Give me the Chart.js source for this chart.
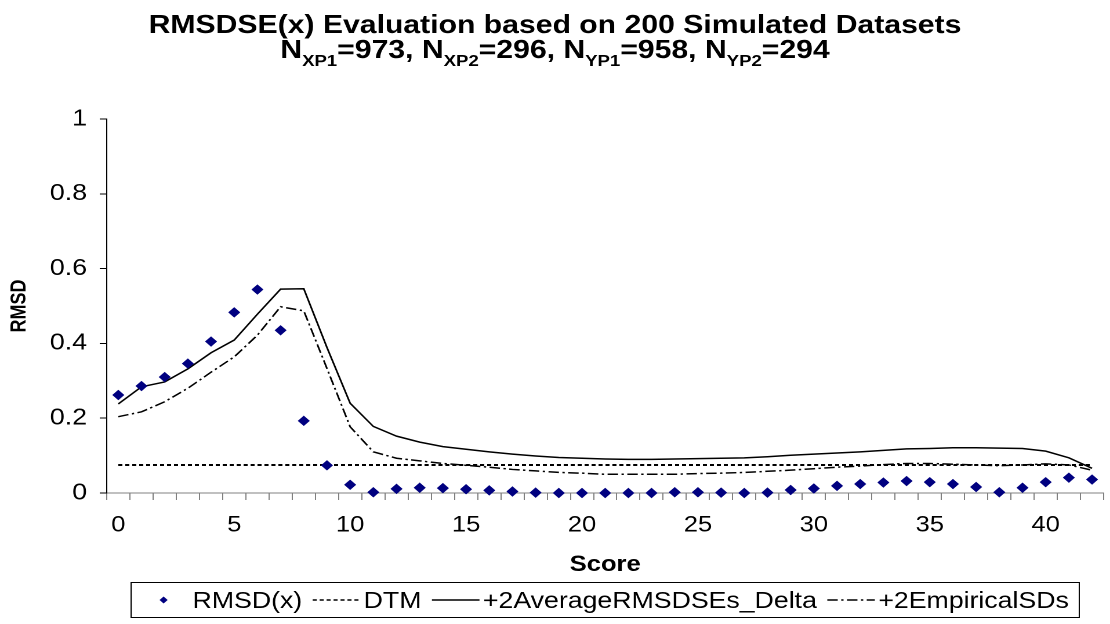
<!DOCTYPE html>
<html lang="en">
<head>
    <meta charset="UTF-8">
    <title>RMSDSE(x) Evaluation</title>
    <script src="https://cdn.jsdelivr.net/npm/chart.js"></script>
    <style>
        html, body { margin: 0; padding: 0; background: #fff; overflow: hidden; }
        /* the original chart is stretched sideways, so draw narrow and stretch */
        #wrap { width: 957px; height: 624px; transform: scaleX(1.1599); transform-origin: 0 0; }
    </style>
</head>
<body>
    <div id="wrap"><canvas id="rmsdChart"></canvas></div>

    <script>
        // data
        var scores = ['0','1','2','3','4','5','6','7','8','9','10','11','12','13','14','15','16','17','18','19','20',
                      '21','22','23','24','25','26','27','28','29','30','31','32','33','34','35','36','37','38','39','40','41','42'];
        var xTickLabels = ['0','5','10','15','20','25','30','35','40'];

        var rmsd = [0.262, 0.286, 0.310, 0.346, 0.405, 0.483, 0.544, 0.435, 0.193, 0.074,
                    0.022, 0.002, 0.011, 0.014, 0.013, 0.010, 0.007, 0.004, 0.001, 0.000,
                    0.000, 0.000, 0.000, 0.000, 0.002, 0.002, 0.001, 0.000, 0.001, 0.008,
                    0.012, 0.019, 0.024, 0.028, 0.032, 0.029, 0.024, 0.016, 0.002, 0.014,
                    0.029, 0.041, 0.036];
        var dtm = [0.075, 0.075, 0.075, 0.075, 0.075, 0.075, 0.075, 0.075, 0.075, 0.075,
                   0.075, 0.075, 0.075, 0.075, 0.075, 0.075, 0.075, 0.075, 0.075, 0.075,
                   0.075, 0.075, 0.075, 0.075, 0.075, 0.075, 0.075, 0.075, 0.075, 0.075,
                   0.075, 0.075, 0.075, 0.075, 0.075, 0.075, 0.075, 0.075, 0.075, 0.075,
                   0.075, 0.075, 0.075];
        var avgDelta = [0.238, 0.284, 0.297, 0.332, 0.375, 0.409, 0.478, 0.545, 0.546, 0.389,
                        0.240, 0.178, 0.152, 0.136, 0.124, 0.117, 0.110, 0.104, 0.099, 0.095,
                        0.093, 0.091, 0.090, 0.090, 0.091, 0.092, 0.093, 0.094, 0.097, 0.101,
                        0.104, 0.107, 0.110, 0.114, 0.118, 0.119, 0.121, 0.121, 0.120, 0.119,
                        0.112, 0.094, 0.066];
        var empSD = [0.204, 0.217, 0.244, 0.280, 0.323, 0.364, 0.422, 0.498, 0.487, 0.333,
                     0.177, 0.110, 0.093, 0.086, 0.079, 0.074, 0.069, 0.063, 0.059, 0.055,
                     0.053, 0.050, 0.050, 0.050, 0.050, 0.052, 0.053, 0.055, 0.058, 0.061,
                     0.065, 0.069, 0.072, 0.076, 0.079, 0.079, 0.077, 0.075, 0.073, 0.075,
                     0.078, 0.075, 0.061];

        var titleLine1 = 'RMSDSE(x) Evaluation based on 200 Simulated Datasets';
        // [text, subscript?]
        var titleLine2 = [['N', false], ['XP1', true], ['=973, N', false], ['XP2', true],
                          ['=296, N', false], ['YP1', true], ['=958, N', false], ['YP2', true], ['=294', false]];

        var FONT = '"Liberation Sans", Arial, Helvetica, sans-serif';
        Chart.defaults.font.family = FONT;
        Chart.defaults.color = '#000';

        // two-line title with subscripts
        var titlePlugin = {
            id: 'excelTitle',
            afterDraw: function(chart) {
                var ctx = chart.ctx;
                var cx = chart.width / 2;
                ctx.save();
                ctx.fillStyle = '#000';
                ctx.textBaseline = 'alphabetic';
                ctx.textAlign = 'center';
                ctx.font = 'bold 26px ' + FONT;
                ctx.fillText(titleLine1, cx, 33);

                var total = 0;
                titleLine2.forEach(function(p) {
                    ctx.font = (p[1] ? 'bold 16px ' : 'bold 26px ') + FONT;
                    total += ctx.measureText(p[0]).width;
                });
                var x = cx - total / 2;
                ctx.textAlign = 'left';
                titleLine2.forEach(function(p) {
                    ctx.font = (p[1] ? 'bold 16px ' : 'bold 26px ') + FONT;
                    ctx.fillText(p[0], x, p[1] ? 66 : 58);
                    x += ctx.measureText(p[0]).width;
                });
                ctx.restore();
            }
        };

        // boxed legend like the Excel one
        var legendPlugin = {
            id: 'boxLegend',
            afterDraw: function(chart) {
                var ctx = chart.ctx;
                var area = chart.chartArea;
                var sets = chart.data.datasets;
                var midY = 600;
                ctx.save();
                ctx.font = '23px ' + FONT;

                function layout(draw, startX) {
                    var cur = startX + 28;
                    sets.forEach(function(ds, i) {
                        if (ds.showLine === false) {
                            if (draw) {
                                ctx.fillStyle = ds.pointBackgroundColor;
                                ctx.beginPath();
                                ctx.moveTo(cur - 3.5, midY);
                                ctx.lineTo(cur, midY - 3.5);
                                ctx.lineTo(cur + 3.5, midY);
                                ctx.lineTo(cur, midY + 3.5);
                                ctx.closePath();
                                ctx.fill();
                            }
                            cur += 25;
                        } else {
                            if (draw) {
                                ctx.strokeStyle = ds.borderColor;
                                ctx.lineWidth = Math.min(ds.borderWidth, 1.5);
                                ctx.setLineDash(ds.borderDash || []);
                                ctx.beginPath();
                                ctx.moveTo(cur, midY);
                                ctx.lineTo(cur + 41, midY);
                                ctx.stroke();
                                ctx.setLineDash([]);
                            }
                            cur += 44;
                        }
                        var w = ctx.measureText(ds.label).width;
                        if (draw) {
                            ctx.fillStyle = '#000';
                            ctx.textBaseline = 'alphabetic';
                            ctx.textAlign = 'left';
                            ctx.fillText(ds.label, cur, 608);
                        }
                        cur += w;
                        if (i < sets.length - 1) cur += 9;
                    });
                    return cur + 9 - startX;
                }

                var total = layout(false, 0);
                var left = (area.left + area.right) / 2 - total / 2;
                ctx.fillStyle = '#fff';
                ctx.fillRect(left, 582.5, total, 35);
                ctx.strokeStyle = '#000';
                ctx.lineWidth = 1;
                ctx.strokeRect(left, 582.5, total, 35);
                layout(true, left);
                ctx.restore();
            }
        };

        var ctx = document.getElementById('rmsdChart').getContext('2d');
        var rmsdChart = new Chart(ctx, {
            type: 'line',
            data: {
                labels: scores,
                datasets: [{
                    label: 'RMSD(x)',
                    data: rmsd,
                    showLine: false,
                    pointStyle: 'rectRot',
                    pointRadius: 4.5,
                    pointBorderWidth: 1,
                    pointBackgroundColor: '#000080',
                    pointBorderColor: '#000080',
                    borderColor: '#000080',
                    clip: 8
                }, {
                    label: 'DTM',
                    data: dtm,
                    borderColor: '#000',
                    borderWidth: 2,
                    borderDash: [3.5, 2.5],
                    pointRadius: 0,
                    fill: false
                }, {
                    label: '+2AverageRMSDSEs_Delta',
                    data: avgDelta,
                    borderColor: '#000',
                    borderWidth: 1.5,
                    pointRadius: 0,
                    fill: false
                }, {
                    label: '+2EmpiricalSDs',
                    data: empSD,
                    borderColor: '#000',
                    borderWidth: 1.5,
                    borderDash: [9, 3, 2, 3],
                    pointRadius: 0,
                    fill: false
                }]
            },
            options: {
                responsive: true,
                maintainAspectRatio: false,
                devicePixelRatio: 2,
                animation: false,
                events: [],
                layout: { padding: { top: 119, right: 0, bottom: 0, left: 0 } },
                plugins: {
                    legend: { display: false },
                    title: { display: false },
                    tooltip: { enabled: false }
                },
                scales: {
                    x: {
                        offset: true,
                        grid: { offset: true, drawOnChartArea: false, tickLength: 7, color: '#808080' },
                        border: { color: '#808080', width: 1 },
                        ticks: {
                            autoSkip: false,
                            maxRotation: 0,
                            padding: 12,
                            font: { size: 22 },
                            callback: function(val) {
                                var lab = this.getLabelForValue(val);
                                return xTickLabels.indexOf(lab) >= 0 ? lab : '';
                            }
                        },
                        title: {
                            display: true,
                            text: 'Score',
                            font: { size: 22, weight: 'bold' },
                            padding: { top: 0, bottom: 46 }
                        },
                        afterFit: function(scale) { scale.height = 131; }
                    },
                    y: {
                        min: 0,
                        max: 1,
                        ticks: {
                            stepSize: 0.2,
                            padding: 11,
                            font: { size: 23 },
                            callback: function(val) { return String(Number(val.toFixed(1))); }
                        },
                        grid: { drawOnChartArea: false, tickLength: 6, color: '#000' },
                        border: { color: '#000', width: 1 },
                        title: {
                            display: true,
                            text: 'RMSD',
                            font: { size: 18, weight: 'bold' },
                            padding: { top: 6, bottom: 0 }
                        },
                        afterFit: function(scale) { scale.width = 92; }
                    }
                }
            },
            plugins: [titlePlugin, legendPlugin]
        });
    </script>
</body>
</html>
